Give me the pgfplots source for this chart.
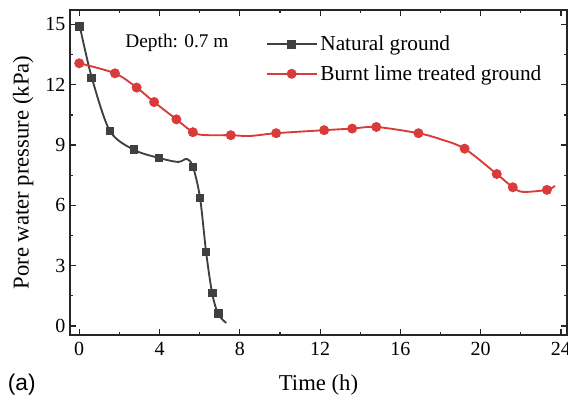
\documentclass[border=0pt]{standalone}
\usepackage{fontspec}
\setmainfont{Liberation Serif}
\newfontfamily\arialfont{Liberation Sans}
\usepackage{pgfplots}
\pgfplotsset{compat=1.18}
\usetikzlibrary{calc}

\definecolor{natgray}{HTML}{404040}
\definecolor{limered}{HTML}{D93B3B}

\begin{document}
\begin{tikzpicture}
\begin{axis}[
  scale only axis, width=372.75pt, height=243.75pt,
  xmin=-0.46, xmax=24.3, ymin=-0.45, ymax=15.72,
  xtick={0,4,...,24}, ytick={0,3,...,15},
  minor x tick num=1, minor y tick num=1,
  tick align=inside, major tick length=4.5pt, minor tick length=2.5pt,
  axis line style={line width=1pt, black!85},
  every tick/.style={line width=0.9pt, black!85},
  xlabel={Time (h)}, ylabel={Pore water pressure (kPa)},
  label style={font=\fontsize{17}{19}\selectfont},
  xlabel style={yshift=-7pt},
  ylabel style={yshift=2pt},
  tick label style={font=\fontsize{15}{17}\selectfont},
  xticklabel style={yshift=-2pt},
  /pgf/number format/assume math mode=true,
  clip=false,
  legend style={draw=none, fill=none, at={(0.385,0.937)}, anchor=north west,
    font=\fontsize{16}{18}\selectfont, row sep=5.4pt},
  legend cell align=left,
  legend image code/.code={
    \draw[mark=none, line width=1.5pt] (0cm,0cm) -- (1.32cm,0cm);
    \draw[mark indices={1}] plot coordinates {(0.66cm,0cm)};},
]
% Natural ground
\addplot[natgray, line width=1.4pt, smooth, tension=0.5,
  mark=square*, mark size=2.6pt, mark options={solid},
  mark indices={1,2,3,4,5,8,9,10,11,12}] coordinates {
  (0.03,14.9)(0.63,12.34)(1.53,9.7)(2.73,8.76)(3.97,8.36)
  (4.92,8.16)(5.37,8.31)(5.67,7.91)(6.02,6.37)(6.32,3.68)
  (6.62,1.64)(6.92,0.6)(7.32,0.15)};
\addlegendentry{Natural ground}
% Burnt lime treated ground
\addplot[limered, line width=1.4pt, smooth, tension=0.5,
  mark=*, mark size=3pt, mark options={solid},
  mark indices={1,2,3,4,5,6,8,10,11,12,13,14,16,17,18,20}] coordinates {
  (0,13.07)(1.78,12.57)(2.86,11.86)(3.73,11.14)(4.84,10.28)
  (5.66,9.64)(6.2,9.5)(7.55,9.49)(8.5,9.45)(9.81,9.59)
  (12.2,9.74)(13.6,9.82)(14.8,9.9)(16.9,9.59)(18.0,9.29)
  (19.2,8.82)(20.8,7.56)(21.6,6.9)(22.1,6.67)(23.3,6.77)
  (23.7,6.97)};
\addlegendentry{Burnt lime treated ground}
\node[font=\fontsize{14.5}{16}\selectfont] at (axis cs:4.87,14.08) {Depth: 0.7 m};
\node[font=\arialfont\fontsize{17}{19}\selectfont] at (rel axis cs:-0.097,-0.154) {(a)};
\end{axis}
\pgfresetboundingbox
\path ($(current axis.south west)+(-52.5pt,-50.25pt)$) rectangle
  ($(current axis.north east)+(0.75pt,7.5pt)$);
\end{tikzpicture}
\end{document}
